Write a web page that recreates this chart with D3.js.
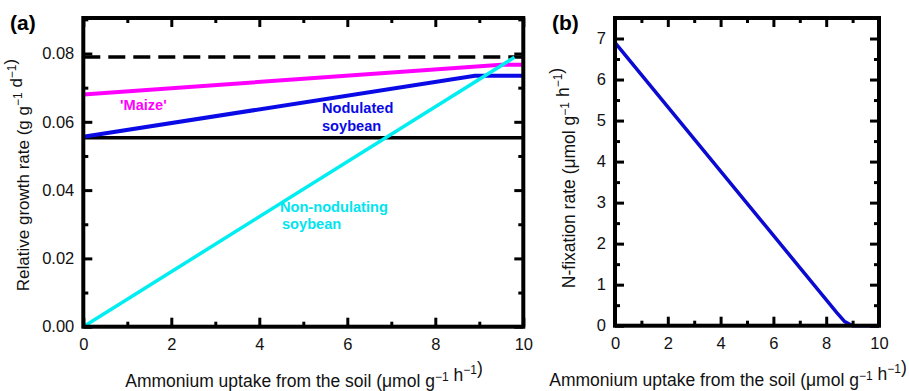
<!DOCTYPE html>
<html>
<head>
<meta charset="utf-8">
<script src="https://d3js.org/d3.v7.min.js"></script>
<style>
  body { margin: 0; background: #fff; }
  svg text { font-family: Arial, "Liberation Sans", sans-serif; }
</style>
</head>
<body>
<div id="chart"></div>
<script>
// ---- data ----
var uptakeTicks = [0, 2, 4, 6, 8, 10];
var growthTicks = [0, 0.02, 0.04, 0.06, 0.08];
var fixTicks = [0, 1, 2, 3, 4, 5, 6, 7];

// panel (a): relative growth rate vs ammonium uptake
var maizeX = [0, 9.5, 10];
var maizeY = [0.068, 0.0767, 0.0767];
var nodX = [0, 8.9, 10];
var nodY = [0.0556, 0.0735, 0.0735];
var nonNodX = [0, 9.8];
var nonNodY = [0, 0.0789];
var dashedLevel = 0.079;
var solidLevel = 0.0553;

// panel (b): N-fixation rate vs ammonium uptake
var fixX = [0, 8.4, 8.7, 9.0, 10];
var fixY = [6.9, 0.32, 0.1, 0, 0];

var W = 909, H = 391;
var svg = d3.select("#chart").append("svg").attr("width", W).attr("height", H);

function zip(xs, ys) { return xs.map(function(d, i) { return [d, ys[i]]; }); }

// draw frame + ticks on four sides
function frame(g, x, y, xMajor, xMinor, yMajor, yMinor, yFmt) {
  var x0 = x.range()[0], x1 = x.range()[1], y0 = y.range()[0], y1 = y.range()[1];
  var styleAxis = function(sel) {
    sel.select(".domain").remove();
    sel.selectAll("line").attr("stroke", "#000").attr("stroke-width", 3);
    sel.selectAll("text").style("font-size", "16.5px").attr("fill", "#111");
  };
  // bottom
  g.append("g").attr("transform", "translate(0," + y0 + ")")
    .call(d3.axisBottom(x).tickValues(xMajor).tickSize(-9).tickPadding(12).tickFormat(d3.format("d"))).call(styleAxis);
  g.append("g").attr("transform", "translate(0," + y0 + ")")
    .call(d3.axisBottom(x).tickValues(xMinor).tickSize(-5).tickFormat("")).call(styleAxis);
  // top
  g.append("g").attr("transform", "translate(0," + y1 + ")")
    .call(d3.axisTop(x).tickValues(xMajor).tickSize(-9).tickFormat("")).call(styleAxis);
  g.append("g").attr("transform", "translate(0," + y1 + ")")
    .call(d3.axisTop(x).tickValues(xMinor).tickSize(-5).tickFormat("")).call(styleAxis);
  // left
  g.append("g").attr("transform", "translate(" + x0 + ",0)")
    .call(d3.axisLeft(y).tickValues(yMajor).tickSize(-9).tickPadding(9).tickFormat(yFmt)).call(styleAxis);
  g.append("g").attr("transform", "translate(" + x0 + ",0)")
    .call(d3.axisLeft(y).tickValues(yMinor).tickSize(-5).tickFormat("")).call(styleAxis);
  // right
  g.append("g").attr("transform", "translate(" + x1 + ",0)")
    .call(d3.axisRight(y).tickValues(yMajor).tickSize(-9).tickFormat("")).call(styleAxis);
  g.append("g").attr("transform", "translate(" + x1 + ",0)")
    .call(d3.axisRight(y).tickValues(yMinor).tickSize(-5).tickFormat("")).call(styleAxis);
  g.append("rect")
    .attr("x", x0).attr("y", y1).attr("width", x1 - x0).attr("height", y0 - y1)
    .attr("fill", "none").attr("stroke", "#000").attr("stroke-width", 4);
}

// unit text with superscripts
function unitTitle(t, parts) {
  parts.forEach(function(p) {
    if (p.sup) {
      t.append("tspan").attr("dy", -6.5).style("font-size", "12px").text(p.t);
      t.append("tspan").attr("dy", 6.5).text("");
    } else {
      t.append("tspan").text(p.t);
    }
  });
}

var uptakeUnit = [
  {t: "Ammonium uptake from the soil (\u03bcmol g"}, {t: "\u22121", sup: true},
  {t: " h"}, {t: "\u22121", sup: true}, {t: ")"}
];

// ================= panel (a) =================
var xa = d3.scaleLinear().domain([0, 10]).range([83.3, 523.3]);
var ya = d3.scaleLinear().domain([0, 0.0904]).range([326.7, 18]);
var ga = svg.append("g");

var line = function(x, y) {
  return d3.line().x(function(d) { return x(d[0]); }).y(function(d) { return y(d[1]); });
};
var la = line(xa, ya);

ga.append("path").datum([[0, dashedLevel], [10, dashedLevel]]).attr("d", la)
  .attr("fill", "none").attr("stroke", "#000").attr("stroke-width", 3.5).attr("stroke-dasharray", "17,8");
ga.append("path").datum([[0, solidLevel], [10, solidLevel]]).attr("d", la)
  .attr("fill", "none").attr("stroke", "#000").attr("stroke-width", 3.5);
ga.append("path").datum(zip(maizeX, maizeY)).attr("d", la)
  .attr("fill", "none").attr("stroke", "#ff00ff").attr("stroke-width", 4);
ga.append("path").datum(zip(nodX, nodY)).attr("d", la)
  .attr("fill", "none").attr("stroke", "#0a0ae6").attr("stroke-width", 4);
ga.append("path").datum(zip(nonNodX, nonNodY)).attr("d", la)
  .attr("fill", "none").attr("stroke", "#00eef0").attr("stroke-width", 3.5);

frame(ga, xa, ya, uptakeTicks, [1, 3, 5, 7, 9], growthTicks, [0.01, 0.03, 0.05, 0.07, 0.09], d3.format(".2f"));

// series labels
ga.append("text").attr("x", 120).attr("y", 110).attr("fill", "#ff00ff")
  .style("font-size", "14.6px").style("font-weight", "bold").text("'Maize'");
var nodT = ga.append("text").attr("fill", "#0a0ae6").style("font-size", "14.6px").style("font-weight", "bold");
nodT.append("tspan").attr("x", 322).attr("y", 113).text("Nodulated");
nodT.append("tspan").attr("x", 322).attr("y", 131).text("soybean");
var nnT = ga.append("text").attr("fill", "#00e5ee").style("font-size", "14.6px").style("font-weight", "bold");
nnT.append("tspan").attr("x", 280).attr("y", 212).text("Non-nodulating");
nnT.append("tspan").attr("x", 282).attr("y", 229).text("soybean");

// axis titles
unitTitle(ga.append("text").attr("x", 304).attr("y", 387).attr("text-anchor", "middle")
  .style("font-size", "17.5px").attr("fill", "#111"), uptakeUnit);
unitTitle(ga.append("text").attr("transform", "translate(28.5,175) rotate(-90)").attr("text-anchor", "middle")
  .style("font-size", "17px").attr("fill", "#111"),
  [{t: "Relative growth rate (g g"}, {t: "\u22121", sup: true}, {t: " d"}, {t: "\u22121", sup: true}, {t: ")"}]);

svg.append("text").attr("x", 10).attr("y", 30).style("font-size", "21px").style("font-weight", "bold").text("(a)");

// ================= panel (b) =================
var xb = d3.scaleLinear().domain([0, 10]).range([615, 879]);
var yb = d3.scaleLinear().domain([0, 7.5]).range([325.7, 18]);
var gb = svg.append("g");
var lb = line(xb, yb);

gb.append("path").datum(zip(fixX, fixY)).attr("d", lb)
  .attr("fill", "none").attr("stroke", "#0a0ad0").attr("stroke-width", 3.5);

frame(gb, xb, yb, uptakeTicks, [1, 3, 5, 7, 9], fixTicks, [0.5, 1.5, 2.5, 3.5, 4.5, 5.5, 6.5, 7.5], d3.format("d"));

unitTitle(gb.append("text").attr("x", 728).attr("y", 386).attr("text-anchor", "middle")
  .style("font-size", "17.5px").attr("fill", "#111"), uptakeUnit);
unitTitle(gb.append("text").attr("transform", "translate(575,178) rotate(-90)").attr("text-anchor", "middle")
  .style("font-size", "17.5px").attr("fill", "#111"),
  [{t: "N-fixation rate (\u03bcmol g"}, {t: "\u22121", sup: true}, {t: " h"}, {t: "\u22121", sup: true}, {t: ")"}]);

svg.append("text").attr("x", 552).attr("y", 30).style("font-size", "21px").style("font-weight", "bold").text("(b)");
</script>
</body>
</html>
